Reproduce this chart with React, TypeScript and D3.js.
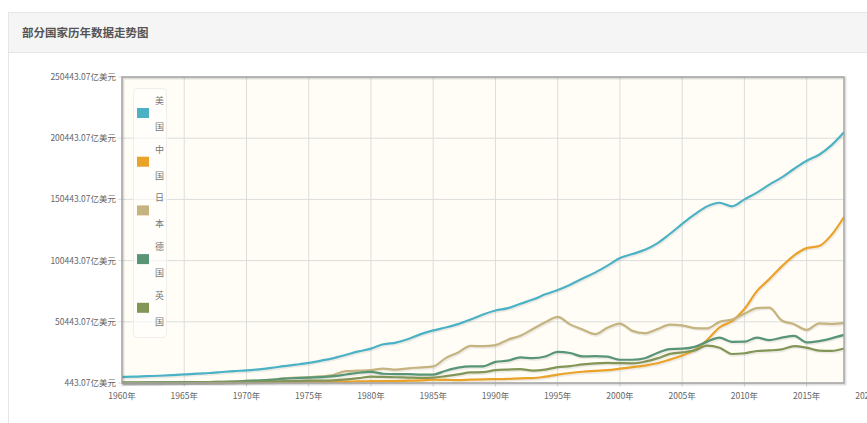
import React from 'react';
import * as d3 from 'd3';

// 年份 1960-2018
const years: number[] = d3.range(1960, 2019);

// GDP，单位：亿美元
const usa = [
  5433, 5633, 6051, 6386, 6858, 7437, 8150, 8617, 9425, 10199,
  10733, 11649, 12791, 14254, 15452, 16849, 18734, 20818, 23516, 26273,
  28573, 32070, 33438, 36340, 40376, 43390, 45796, 48552, 52364, 56416,
  59631, 61581, 65203, 68586, 72872, 76397, 80731, 85776, 90628, 96312,
  102510, 105819, 109291, 114565, 122172, 130392, 138156, 144742, 147699, 144781,
  150490, 155997, 162540, 168432, 175507, 182060, 186951, 194796, 205272,
];
const china = [
  597, 501, 472, 507, 597, 704, 767, 729, 708, 797,
  926, 998, 1137, 1385, 1442, 1634, 1539, 1749, 1495, 1783,
  1911, 1959, 2051, 2307, 2599, 3095, 3008, 2729, 3124, 3480,
  3609, 3834, 4269, 4447, 5643, 7345, 8637, 9616, 10290, 10940,
  12113, 13394, 14706, 16603, 19553, 22860, 27521, 35503, 45943, 51017,
  60872, 75515, 85322, 95704, 104757, 110616, 112333, 121437, 136081,
];
const japan = [
  443, 535, 607, 695, 817, 909, 1056, 1238, 1466, 1722,
  2126, 2402, 3180, 4321, 4796, 5215, 5862, 7214, 10136, 10550,
  11054, 12189, 11345, 12433, 13184, 13989, 20789, 25328, 30717, 30549,
  31328, 35844, 39088, 44541, 49988, 54491, 48337, 44147, 40325, 45621,
  48875, 43035, 41151, 44457, 48151, 47554, 45304, 45153, 50379, 52314,
  57001, 61575, 62032, 51557, 48504, 43895, 49225, 48669, 49548,
];
const germany = [
  720, 800, 880, 940, 1030, 1140, 1210, 1240, 1340, 1540,
  2158, 2492, 2998, 3984, 4453, 4906, 5198, 6006, 7405, 8813,
  9503, 8005, 7766, 7707, 7251, 7325, 10462, 12971, 14012, 13984,
  17717, 18689, 21316, 20713, 22051, 25858, 24972, 22117, 22389, 21949,
  19431, 19441, 20686, 24961, 28144, 28469, 29947, 34256, 37453, 34113,
  34171, 37577, 35440, 37525, 38906, 33576, 34675, 36908, 39744,
];
const uk = [
  723, 770, 812, 866, 944, 1018, 1086, 1131, 1078, 1165,
  1307, 1481, 1697, 1925, 2061, 2418, 2326, 2631, 3359, 4389,
  5649, 5408, 5150, 4896, 4615, 4893, 6015, 7452, 9101, 9269,
  10932, 11428, 11797, 10614, 11405, 13442, 14196, 15609, 16537, 16878,
  16655, 16498, 17857, 20544, 24215, 25432, 27084, 30905, 29294, 24128,
  24752, 26593, 27049, 27860, 30638, 29286, 26943, 26662, 28607,
];

const seriesNames = ['美国', '中国', '日本', '德国', '英国'];
const seriesValues = [usa, china, japan, germany, uk];
const seriesColors = ['#4bb2c5', '#eaa228', '#c5b47f', '#579575', '#839557'];

const yTicks = [443.07, 50443.07, 100443.07, 150443.07, 200443.07, 250443.07];
const xTicks = [1960, 1965, 1970, 1975, 1980, 1985, 1990, 1995, 2000, 2005, 2010, 2015, 2020];

const W = 867;
const H = 423;
const plot = { left: 122, right: 844, top: 77, bottom: 383 };

const App = () => {
  const x = d3.scaleLinear().domain([1960, 2018]).range([plot.left, plot.right]);
  const y = d3.scaleLinear().domain([443.07, 250443.07]).range([plot.bottom, plot.top]);

  const line = d3
    .line<number>()
    .x((d, i) => x(years[i]))
    .y(d => y(d))
    .curve(d3.curveMonotoneX);

  const font = '"Noto Sans CJK SC", "Noto Sans", sans-serif';

  return (
    <svg
      width={W}
      height={H}
      style={{ position: 'absolute', left: 0, top: 0, background: '#fff' }}
      fontFamily={font}
    >
      {/* 面板 */}
      <rect x={8.5} y={12.5} width={880} height={430} fill="#fff" stroke="#e6e6e6" />
      <rect x={9} y={13} width={880} height={39} fill="#f5f5f5" />
      <line x1={9} x2={880} y1={52.5} y2={52.5} stroke="#e6e6e6" />
      <text x={22} y={37} fontSize={11.5} fontWeight="bold" fill="#555">
        部分国家历年数据走势图
      </text>

      {/* 绘图区背景 + 网格 */}
      <rect
        x={plot.left}
        y={plot.top}
        width={plot.right - plot.left}
        height={plot.bottom - plot.top}
        fill="#fffdf6"
      />
      {xTicks
        .filter(t => x(t) <= plot.right)
        .map(t => (
          <line
            key={'gx' + t}
            x1={x(t)}
            x2={x(t)}
            y1={plot.top}
            y2={plot.bottom + 4}
            stroke="#dddddd"
          />
        ))}
      {yTicks.map(t => (
        <line
          key={'gy' + t}
          x1={plot.left - 4}
          x2={plot.right}
          y1={y(t)}
          y2={y(t)}
          stroke="#dddddd"
        />
      ))}

      {/* 线条阴影 */}
      {seriesValues.map((vals, i) => (
        <path
          key={'sh' + i}
          d={line(vals) || ''}
          fill="none"
          stroke="rgba(0,0,0,0.07)"
          strokeWidth={2.5}
          transform="translate(1,1.5)"
        />
      ))}
      {seriesValues.map((vals, i) => (
        <path
          key={'s' + i}
          d={line(vals) || ''}
          fill="none"
          stroke={seriesColors[i]}
          strokeWidth={2.2}
          strokeLinejoin="round"
        />
      ))}

      {/* 边框 */}
      <rect
        x={plot.left + 1}
        y={plot.top + 1}
        width={plot.right - plot.left}
        height={plot.bottom - plot.top}
        fill="none"
        stroke="rgba(0,0,0,0.12)"
        strokeWidth={3}
      />
      <rect
        x={plot.left}
        y={plot.top}
        width={plot.right - plot.left}
        height={plot.bottom - plot.top}
        fill="none"
        stroke="#a8a8a8"
        strokeWidth={1.5}
      />

      {/* Y 轴标签 */}
      {yTicks.map(t => (
        <text
          key={'yl' + t}
          x={plot.left - 6}
          y={y(t) + 3}
          fontSize={8.5}
          textAnchor="end"
          fill="#666"
        >
          {t.toFixed(2)}亿美元
        </text>
      ))}

      {/* X 轴标签 */}
      {xTicks.map(t => (
        <text key={'xl' + t} x={x(t)} y={399} fontSize={8.5} textAnchor="middle" fill="#666">
          {t}年
        </text>
      ))}

      {/* 图例 */}
      <rect x={133.5} y={88.5} width={33} height={249} rx={4} fill="rgba(255,255,255,0.6)" stroke="#eeeeee" />
      {seriesNames.map((name, i) => {
        const cy = 113 + i * 48.7;
        return (
          <g key={'lg' + i}>
            <rect x={137} y={cy - 5} width={12} height={10} fill={seriesColors[i]} />
            <text x={155} y={cy - 9} fontSize={9} fill="#777">
              {name[0]}
            </text>
            <text x={155} y={cy + 17} fontSize={9} fill="#777">
              {name[1]}
            </text>
          </g>
        );
      })}
    </svg>
  );
};

export default App;
